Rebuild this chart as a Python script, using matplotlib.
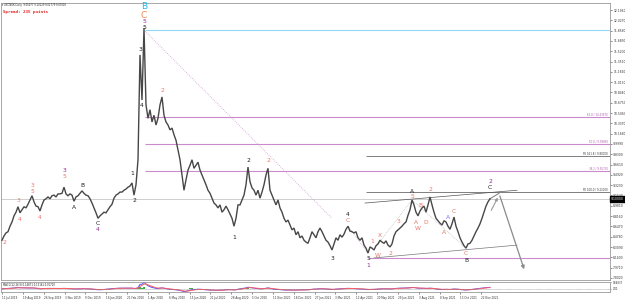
import numpy as np
import pandas as pd
import matplotlib
matplotlib.use("Agg")
import matplotlib.pyplot as plt
from matplotlib.transforms import blended_transform_factory

# ---------------- data (USDNOK daily, sampled every ~2.7 bars) ----------------
close = [
    8.42, 8.49, 8.54, 8.56, 8.65, 8.72, 8.82, 8.88, 8.97, 8.87, 8.92, 8.97, 8.95, 9.01, 9.08, 9.15, 9.05, 8.98, 8.97, 8.90,
    9.00, 9.08, 9.10, 9.13, 9.10, 9.15, 9.16, 9.13, 9.18, 9.18, 9.19, 9.29, 9.18, 9.15, 9.18, 9.16, 9.06, 9.13, 9.15, 9.19,
    9.23, 9.19, 9.16, 9.15, 9.10, 9.03, 8.95, 8.87, 8.78, 8.82, 8.85, 8.88, 8.87, 8.92, 8.97, 9.01, 9.11, 9.16, 9.18, 9.21,
    9.21, 9.24, 9.26, 9.29, 9.31, 9.36, 9.16, 9.33, 9.74, 11.46, 10.72, 11.90, 10.64, 10.42, 10.56, 10.36, 10.47, 10.31, 10.42, 10.64,
    10.77, 10.47, 10.36, 10.31, 10.23, 10.26, 10.15, 10.06, 9.90, 9.74, 9.49, 9.24, 9.41, 9.57, 9.65, 9.74, 9.60, 9.65, 9.70, 9.57,
    9.49, 9.41, 9.33, 9.24, 9.19, 9.11, 9.03, 9.00, 8.95, 9.00, 8.88, 8.92, 8.98, 8.92, 8.85, 8.78, 8.65, 8.78, 9.00, 9.00,
    9.08, 9.16, 9.33, 9.62, 9.38, 9.28, 9.24, 9.16, 9.24, 9.11, 9.21, 9.33, 9.49, 9.60, 9.24, 9.16, 9.08, 9.00, 9.08, 8.95,
    8.88, 8.78, 8.72, 8.75, 8.67, 8.59, 8.62, 8.51, 8.56, 8.46, 8.49, 8.42, 8.39, 8.37, 8.46, 8.56, 8.51, 8.46, 8.56, 8.62,
    8.56, 8.49, 8.42, 8.39, 8.33, 8.26, 8.36, 8.46, 8.42, 8.51, 8.47, 8.52, 8.60, 8.65, 8.57, 8.56, 8.54, 8.56, 8.46, 8.42,
    8.46, 8.34, 8.29, 8.21, 8.31, 8.29, 8.26, 8.33, 8.36, 8.42, 8.39, 8.37, 8.41, 8.34, 8.31, 8.36, 8.49, 8.56, 8.59, 8.62,
    8.65, 8.69, 8.72, 8.83, 8.92, 9.08, 9.00, 8.88, 8.82, 8.90, 8.95, 8.98, 8.88, 9.00, 9.13, 9.00, 8.88, 8.78, 8.74, 8.70,
    8.67, 8.74, 8.72, 8.65, 8.60, 8.69, 8.80, 8.65, 8.56, 8.46, 8.39, 8.33, 8.29, 8.36, 8.37, 8.42, 8.49, 8.56, 8.62, 8.69,
    8.78, 8.88, 8.98, 9.05, 9.10,
]

date_labels = ["11 Jul 2019", "19 Aug 2019", "26 Sep 2019", "3 Nov 2019", "9 Dec 2019", "16 Jan 2020",
               "21 Feb 2020", "1 Apr 2020", "6 May 2020", "15 Jun 2020", "21 Jul 2020", "28 Aug 2020",
               "5 Oct 2020", "11 Nov 2020", "18 Dec 2020", "27 Jan 2021", "3 Mar 2021", "12 Apr 2021",
               "20 May 2021", "29 Jun 2021", "3 Aug 2021", "8 Sep 2021", "13 Oct 2021", "22 Nov 2021"]

swing_high = 11.868    # March 2020 high (cyan level)
swing_low = 8.129      # 2021 low (fib base)
fib_ratios = [0.618, 0.5, 0.382]
fe_levels = [("FE 161.8", 9.80), ("FE 100.0", 9.21)]

# wave labels: text, sample index, vertical offset in px (+ up), colour key
wave_labels = [
    ("2", 1, -7, "red"), ("3", 8, 6, "red"), ("4", 9, -7, "red"),
    ("5", 15, 4, "red"), ("3", 15, 10, "red"), ("4", 19, -7, "red"),
    ("5", 31, 11, "red"), ("3", 31, 17, "purple"),
    ("A", 36, -6, "black"), ("B", 40, 5, "black"),
    ("C", 48, -5, "black"), ("4", 48, -11, "purple"),
    ("1", 65, 9, "black"), ("2", 66, -5, "black"),
    ("3", 69, 5, "black"), ("4", 70, -5, "black"),
    ("5", 71, 1, "black"), ("5", 71, 7, "purple"), ("C", 71, 13, "orange"), ("B", 71, 22, "cyan"),
    ("2", 80, 6, "red"),
    ("1", 116, -11, "black"), ("2", 123, 7, "black"), ("2", 133, 8, "red"),
    ("3", 165, -8, "black"),
    ("C", 173, 6, "red"), ("4", 173, 12, "black"),
    ("5", 183, -5, "black"), ("1", 183, -12, "purple"),
    ("1", 185, 7, "red"), ("X", 189, 5, "red"), ("W", 188, -12, "red"), ("2", 194, -7, "red"),
    ("3", 198, 8, "red"),
    ("5", 205, 4, "red"), ("A", 205, 9, "black"),
    ("A", 207, -10, "red"), ("W", 208, -13, "red"), ("B", 209, 5, "red"), ("D", 212, -10, "red"),
    ("2", 214, 7, "red"),
    ("A", 221, -12, "red"), ("A", 223, 9, "blue"), ("C", 226, 6, "red"),
    ("C", 232, -5, "red"), ("B", 232, -12, "black"),
    ("C", 244, 11, "black"), ("2", 244, 17, "purple"),
]

projection_bars = [248.5, 261.5]
projection_prices = [9.19, 7.90]

colors = {"red": "#e8766c", "black": "#202020", "purple": "#8e2a90",
          "cyan": "#22b8ea", "orange": "#f08a4a", "blue": "#6f6fff"}

# ---------------- figure ----------------
W, H = 625, 301
fig = plt.figure(figsize=(W / 100, H / 100), dpi=100)
fig.patch.set_facecolor("white")

def frac_box(x0, y0, x1, y1):
    return [x0 / W, 1 - y1 / H, (x1 - x0) / W, (y1 - y0) / H]

ax = fig.add_axes(frac_box(1, 3, 610, 280))
ax2 = fig.add_axes(frac_box(1, 282, 610, 292))

n = len(close)
xs = np.arange(n)
c = np.array(close)

XL = (-0.5, 304.0)
YL = (7.768, 12.311)
ax.set_xlim(*XL)
ax.set_ylim(*YL)

# horizontal levels
ax.axhline(close[-1], color="#cfcfcf", lw=0.7, zorder=1)
ax.hlines(swing_high, 71.5, XL[1], color="#8fd9f2", lw=0.8, zorder=1)
for r in fib_ratios:
    lvl = swing_low + r * (swing_high - swing_low)
    ax.hlines(lvl, 71.5, XL[1], color="#c98bcb", lw=0.8, zorder=1)
    ax.text(XL[1] - 1, lvl, f"{r*100:.1f} / {lvl:.5f}", color="#b060b0",
            fontsize=1.9, ha="right", va="bottom")
ax.hlines(swing_low, 183, XL[1], color="#c98bcb", lw=0.8, zorder=1)
for name, lvl in fe_levels:
    ax.hlines(lvl, 182, XL[1], color="#6a6a6a", lw=0.6, zorder=1)
    ax.text(XL[1] - 1, lvl, f"{name} / {lvl:.5f}", color="#333333",
            fontsize=1.9, ha="right", va="bottom")

# dotted wave connector lines
ax.plot([71.5, 165], [11.85, 8.78], ls=(0, (1, 1.5)), color="#d49ad6", lw=0.6, zorder=1)
ax.plot([188, 205], [close[188], close[205]], ls=(0, (1, 1.5)), color="#b0b0b0", lw=0.5)
ax.plot([205, 232], [close[205], close[232]], ls=(0, (1, 1.5)), color="#b0b0b0", lw=0.5)
ax.plot([173, 183], [close[173], close[183]], ls=(0, (1, 1.5)), color="#c9a0c9", lw=0.5)

# channel lines
ax.plot([181.5, 257.5], [9.03, 9.24], color="#555555", lw=0.5)
ax.plot([186, 257.5], [8.13, 8.34], color="#777777", lw=0.5)

# price
ax.plot(xs, c, color="#474747", lw=1.0, solid_joinstyle="miter", zorder=3)

# projection arrows
ax.annotate("", xy=(248.5, 9.16), xytext=(244, 8.87),
            arrowprops=dict(arrowstyle="-|>", color="#9a9a9a", lw=0.8, mutation_scale=4))
ax.plot([n - 1, projection_bars[0]], [close[-1], projection_prices[0]], color="#8a8a8a", lw=0.8)
ax.annotate("", xy=(projection_bars[1], projection_prices[1]),
            xytext=(projection_bars[0], projection_prices[0]),
            arrowprops=dict(arrowstyle="-|>", color="#8a8a8a", lw=0.9, mutation_scale=5))

# wave labels
for txt, k, dy, col in wave_labels:
    big = col in ("cyan", "orange")
    ax.annotate(txt, xy=(k, close[k]), xytext=(0, dy * 0.72), textcoords="offset points",
                ha="center", va="center", fontsize=6.5 if big else 4.3,
                color=colors[col], zorder=5)

# axes style
for a in (ax, ax2):
    for s in a.spines.values():
        s.set_color("#9a9a9a")
        s.set_linewidth(0.6)
    a.set_facecolor("white")

ax.set_xticks([])
ax.yaxis.tick_right()
step = 0.1690
yt = 12.196 - step * np.arange(0, 27)
yt = yt[(yt > YL[0]) & (yt < YL[1])]
ax.set_yticks(yt)
ax.set_yticklabels([f"{v:.4f}" for v in yt])
ax.tick_params(axis="y", labelsize=2.2, length=1.5, width=0.4, pad=0.8, colors="#333333")

tr = blended_transform_factory(ax.transAxes, ax.transData)
ax.text(1.002, close[-1], f"{close[-1]:.5f}", transform=tr, fontsize=2.2, color="white",
        ha="left", va="center", bbox=dict(boxstyle="square,pad=0.25", fc="black", ec="black"))

# ---------------- MACD-style indicator ----------------
s = pd.Series(c)
fast = s.ewm(span=12 / 2.7, adjust=False).mean()
slow = s.ewm(span=26 / 2.7, adjust=False).mean()
macd = fast - slow
signal = macd.ewm(span=9 / 2.7, adjust=False).mean()
hist = macd - signal
ax2.set_xlim(*XL)
ax2.bar(xs, hist.clip(lower=0), width=0.8, color="#3cb043")
ax2.plot(xs, macd, color="#5050ff", lw=0.7)
ax2.plot(xs, signal, color="#ff6060", lw=0.7)
ax2.axhline(0, color="#777777", lw=0.4, ls=(0, (1, 1)))
lo, hi = float(min(macd.min(), signal.min())), float(max(macd.max(), signal.max()))
ax2.set_ylim(lo - 0.05 * (hi - lo), hi + 0.05 * (hi - lo))
ax2.yaxis.tick_right()
ax2.set_yticks([hi, 0])
ax2.set_yticklabels([f"{hi:.5f}", "0.00"])
ax2.tick_params(axis="y", labelsize=1.8, length=1, width=0.4, pad=0.8, colors="#333333")
ax2.text(0.004, 0.93, f"MACD(12,26,9) {macd.iloc[-1]:.5f} {signal.iloc[-1]:.5f} {hist.iloc[-1]:.5f}",
         transform=ax2.transAxes, fontsize=1.8, va="top", ha="left", color="#222222")

spacing = 10.42
xt = np.arange(len(date_labels)) * spacing
ax2.set_xticks(xt)
ax2.set_xticklabels(date_labels, ha="left")
ax2.tick_params(axis="x", labelsize=2.0, length=1.5, width=0.4, pad=1.2, colors="#333333")

# header texts
fig.text(2 / W, 1 - 5 / H, "\u25be USDNOK,Daily  9.05077 9.10129 9.02779 9.07008",
         fontsize=1.8, color="#222222", va="center", ha="left")
fig.text(3 / W, 1 - 11.5 / H, "Spread: 235 points", fontsize=3.1, color="#e02020",
         family="DejaVu Sans Mono", weight="bold", va="center", ha="left")

fig.savefig("out.png", dpi=100, facecolor="white")
